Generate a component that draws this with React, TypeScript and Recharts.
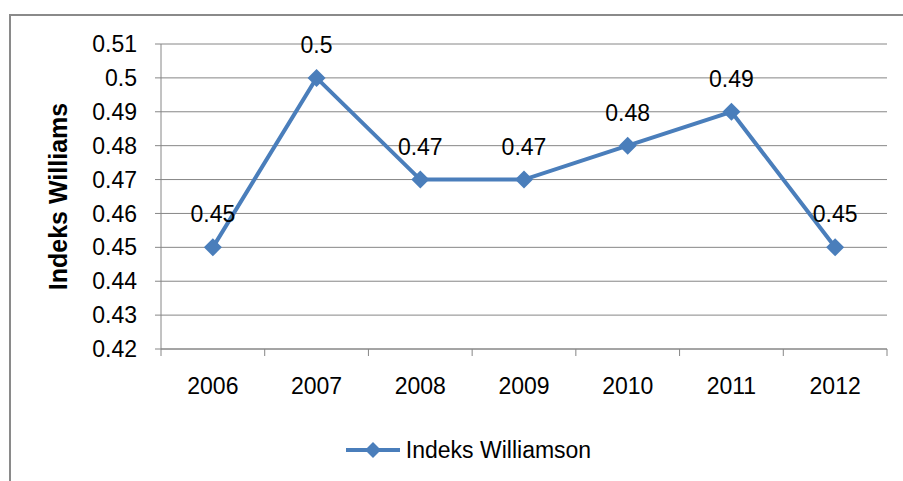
import { LineChart, Line, XAxis, YAxis, CartesianGrid, Legend, LabelList } from "recharts";

const years = ["2006", "2007", "2008", "2009", "2010", "2011", "2012"];
const williamson = [0.45, 0.5, 0.47, 0.47, 0.48, 0.49, 0.45];
const yTicks = [0.42, 0.43, 0.44, 0.45, 0.46, 0.47, 0.48, 0.49, 0.5, 0.51];

const data = years.map((year, i) => ({ year, value: williamson[i] }));

const FONT = "'Liberation Sans', Arial, sans-serif";
const FS = 23;
const GRID = "#868686";
const BLUE = "#4A7EBB";

const Diamond = ({ cx, cy }: { cx?: number; cy?: number }) => {
  if (cx == null || cy == null) return null;
  const r = 9;
  return (
    <path
      d={`M${cx},${cy - r} L${cx + r},${cy} L${cx},${cy + r} L${cx - r},${cy} Z`}
      fill={BLUE}
    />
  );
};

// category label plus tick marks on the band edges, like Excel
const YearTick = (props: any) => {
  const { x, y, payload, index } = props;
  const half = payload?.offset ?? 0;
  const top = y - 8;
  return (
    <g>
      <line x1={x - half} y1={top} x2={x - half} y2={top + 7} stroke={GRID} />
      {index === years.length - 1 && (
        <line x1={x + half} y1={top} x2={x + half} y2={top + 7} stroke={GRID} />
      )}
      <text x={x} y={y + 37} textAnchor="middle" fontSize={FS} fontFamily={FONT} fill="#000">
        {payload.value}
      </text>
    </g>
  );
};

const LegendItem = () => (
  <div
    style={{
      display: "flex",
      alignItems: "center",
      justifyContent: "center",
      height: 72,
      paddingTop: 10,
      paddingLeft: 8,
      boxSizing: "border-box",
      fontFamily: FONT,
      fontSize: FS,
      color: "#000",
    }}
  >
    <svg width={56} height={20} style={{ marginRight: 5 }}>
      <line x1={1} y1={10} x2={55} y2={10} stroke={BLUE} strokeWidth={4} />
      <path d="M28,2 L36,10 L28,18 L20,10 Z" fill={BLUE} />
    </svg>
    <span>Indeks Williamson</span>
  </div>
);

export default function App() {
  return (
    <div style={{ position: "absolute", left: 0, top: 0, width: 903, height: 481, background: "#fff", overflow: "hidden" }}>
      <div
        style={{
          position: "absolute",
          left: 9,
          top: 14,
          width: 1000,
          height: 1000,
          borderLeft: "2px solid #8a8a8a",
          borderTop: "2px solid #8a8a8a",
        }}
      />
      <LineChart
        width={903}
        height={481}
        data={data}
        margin={{ top: 44, right: 16, bottom: 0, left: 41 }}
        style={{ position: "absolute", left: 0, top: 0 }}
      >
        <CartesianGrid vertical={false} stroke={GRID} strokeWidth={1} />
        <XAxis
          dataKey="year"
          scale="band"
          axisLine={{ stroke: GRID }}
          tickLine={false}
          tick={<YearTick />}
          height={60}
          interval={0}
        />
        <YAxis
          domain={[0.42, 0.51]}
          ticks={yTicks}
          interval={0}
          width={120}
          axisLine={{ stroke: GRID }}
          tickLine={{ stroke: GRID }}
          tickSize={6}
          tickMargin={18}
          tick={{ fontSize: FS, fontFamily: FONT, fill: "#000" }}
          tickFormatter={(v: number) => String(Number(v.toFixed(2)))}
          label={{
            value: "Indeks Williams",
            angle: -90,
            position: "insideLeft",
            offset: 17,
            style: { fontSize: 25, fontWeight: "bold", fontFamily: FONT, fill: "#000", textAnchor: "middle" },
          }}
        />
        <Legend verticalAlign="bottom" height={72} content={<LegendItem />} />
        <Line
          type="linear"
          dataKey="value"
          stroke={BLUE}
          strokeWidth={4}
          dot={<Diamond />}
          activeDot={false}
          isAnimationActive={false}
        >
          <LabelList
            dataKey="value"
            position="top"
            offset={25}
            style={{ fontSize: FS, fontFamily: FONT, fill: "#000" }}
          />
        </Line>
      </LineChart>
    </div>
  );
}
